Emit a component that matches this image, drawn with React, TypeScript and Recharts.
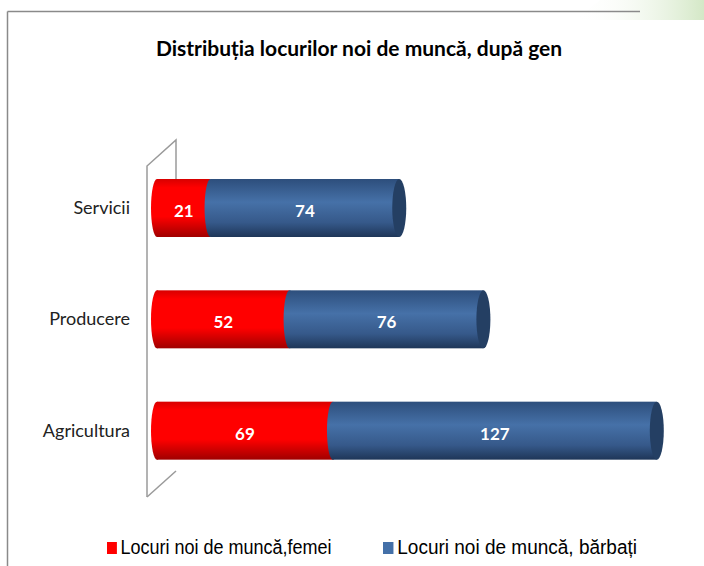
import React from "react";
import {
  BarChart,
  Bar,
  XAxis,
  YAxis,
  LabelList,
  Customized,
} from "recharts";

const categories = ["Servicii", "Producere", "Agricultura"];
const femei = [21, 52, 69];
const barbati = [74, 76, 127];
const seriesNames = ["Locuri noi de muncă,femei", "Locuri noi de muncă, bărbați"];
const title = "Distribuția locurilor noi de muncă, după gen";

const data = categories.map((name, i) => ({
  name,
  femei: femei[i],
  barbati: barbati[i],
}));

const RED = "#FF0000";
const BLUE = "#4470A8";

// cilindru: corp cu gradient vertical + elipse la capete
const Cylinder = (props: any) => {
  const { x, y, width, height, gradId, capColor, cap } = props;
  if (width == null || height == null) return null;
  const ry = height / 2;
  const rx = 6;
  const cy = y + ry;
  return (
    <g>
      <ellipse cx={x} cy={cy} rx={rx} ry={ry} fill={`url(#${gradId})`} />
      <rect x={x} y={y} width={width} height={height} fill={`url(#${gradId})`} />
      {cap && (
        <ellipse cx={x + width} cy={cy} rx={rx + 1} ry={ry} fill={capColor} />
      )}
    </g>
  );
};

const Decor = (props: any) => {
  const { offset } = props;
  const left = offset ? offset.left : 157;
  const top = offset ? offset.top : 152;
  const h = offset ? offset.height : 333;
  const fx = left - 10;
  const bx = left + 19;
  return (
    <g>
      <defs>
        <linearGradient id="gradRed" x1="0" y1="0" x2="0" y2="1">
          <stop offset="0%" stopColor="#D80000" />
          <stop offset="15%" stopColor="#FF0000" />
          <stop offset="65%" stopColor="#FF0000" />
          <stop offset="100%" stopColor="#A00000" />
        </linearGradient>
        <linearGradient id="gradBlue" x1="0" y1="0" x2="0" y2="1">
          <stop offset="0%" stopColor="#2D4E7C" />
          <stop offset="40%" stopColor="#4671A8" />
          <stop offset="75%" stopColor="#36598A" />
          <stop offset="100%" stopColor="#1E3658" />
        </linearGradient>
        <linearGradient id="gradGreen" x1="0" y1="0" x2="1" y2="0">
          <stop offset="0%" stopColor="#FFFFFF" stopOpacity="0" />
          <stop offset="100%" stopColor="#CFE5C0" stopOpacity="0.9" />
        </linearGradient>
      </defs>
      <polygon points="600,0 704,0 704,20 575,20" fill="url(#gradGreen)" />
      <line x1={7.5} y1={11.5} x2={640} y2={11.5} stroke="#8A8A8A" strokeWidth={1.5} />
      <line x1={7.5} y1={11.5} x2={7.5} y2={566} stroke="#8A8A8A" strokeWidth={1.5} />
      <text
        x={359}
        y={56}
        textAnchor="middle"
        fontFamily="Lato"
        fontWeight="bold"
        fontSize={21}
        fill="#000"
      >
        {title}
      </text>
      <g stroke="#9A9A9A" strokeWidth={1.5} fill="none">
        <polyline points={`${fx},${top + h + 12} ${fx},${top + 14} ${bx},${top - 12} ${bx},${top + 30}`} />
        <polyline points={`${bx},${top + h - 14} ${bx},${top + h - 14} ${fx},${top + h + 12}`} />
      </g>
    </g>
  );
};

const labelStyle = {
  fill: "#FFFFFF",
  fontFamily: "Lato",
  fontWeight: "bold",
  fontSize: 17,
};

const legendLeft = [107, 383];

export default function App() {
  return (
    <div style={{ position: "absolute", left: 0, top: 0, width: 704, height: 566 }}>
      <BarChart
        width={704}
        height={566}
        data={data}
        layout="vertical"
        barSize={58}
        margin={{ top: 152, right: 37, bottom: 80, left: 0 }}
      >
        <Customized component={Decor} />
        <XAxis type="number" domain={[0, 200]} hide />
        <YAxis
          type="category"
          dataKey="name"
          width={157}
          axisLine={false}
          tickLine={false}
          tickSize={0}
          tickMargin={27}
          tick={{ fill: "#222", fontFamily: "Lato", fontSize: 18 }}
        />
        <Bar
          dataKey="femei"
          name={seriesNames[0]}
          stackId="a"
          fill={RED}
          isAnimationActive={false}
          shape={(p: any) => <Cylinder {...p} gradId="gradRed" />}
        >
          <LabelList dataKey="femei" position="center" style={labelStyle} dy={3} />
        </Bar>
        <Bar
          dataKey="barbati"
          name={seriesNames[1]}
          stackId="a"
          fill={BLUE}
          isAnimationActive={false}
          shape={(p: any) => (
            <Cylinder {...p} gradId="gradBlue" cap capColor="#243F63" />
          )}
        >
          <LabelList dataKey="barbati" position="center" style={labelStyle} dy={3} />
        </Bar>
      </BarChart>
      {seriesNames.map((n, i) => (
        <div
          key={n}
          style={{
            position: "absolute",
            top: 536,
            left: legendLeft[i],
            display: "flex",
            alignItems: "center",
            whiteSpace: "nowrap",
            fontFamily: "'Liberation Sans', sans-serif",
            fontSize: 20,
            color: "#000",
            transform: i === 0 ? "scaleX(0.9)" : "scaleX(0.95)",
            transformOrigin: "left center",
          }}
        >
          <span
            style={{
              display: "inline-block",
              width: 11,
              height: 12,
              background: i === 0 ? RED : BLUE,
              marginRight: 4,
            }}
          />
          {n}
        </div>
      ))}
    </div>
  );
}
